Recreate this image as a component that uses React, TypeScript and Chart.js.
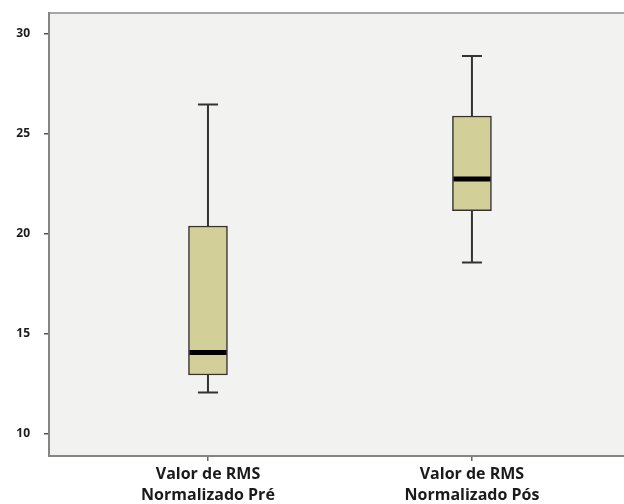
import React, { useEffect, useRef } from "react";
import { Chart, registerables } from "chart.js";

Chart.register(...registerables);

const categories = [
  ["Valor de RMS", "Normalizado Pré"],
  ["Valor de RMS", "Normalizado Pós"],
];
const positions = [1, 2];
const mins = [12.07, 18.58];
const q1 = [12.95, 21.17];
const medians = [14.07, 22.75];
const q3 = [20.4, 25.9];
const maxs = [26.48, 28.9];
const yTicks = [10, 15, 20, 25, 30];

const boxPlugin = {
  id: "boxParts",
  beforeDraw(chart: any) {
    const { ctx, chartArea } = chart;
    ctx.save();
    ctx.fillStyle = "#f2f2f1";
    ctx.fillRect(chartArea.left, chartArea.top, chartArea.right - chartArea.left, chartArea.bottom - chartArea.top);
    ctx.restore();
  },
  afterDatasetsDraw(chart: any) {
    const { ctx, scales } = chart;
    const xs = scales.x;
    const ys = scales.y;
    ctx.save();
    positions.forEach((p, i) => {
      const cx = xs.getPixelForValue(p);
      const half = 19.5;
      const cap = 10;
      ctx.strokeStyle = "#333333";
      ctx.lineWidth = 2;
      ctx.beginPath();
      ctx.moveTo(cx, ys.getPixelForValue(q3[i]));
      ctx.lineTo(cx, ys.getPixelForValue(maxs[i]));
      ctx.moveTo(cx - cap, ys.getPixelForValue(maxs[i]));
      ctx.lineTo(cx + cap, ys.getPixelForValue(maxs[i]));
      ctx.moveTo(cx, ys.getPixelForValue(q1[i]));
      ctx.lineTo(cx, ys.getPixelForValue(mins[i]));
      ctx.moveTo(cx - cap, ys.getPixelForValue(mins[i]));
      ctx.lineTo(cx + cap, ys.getPixelForValue(mins[i]));
      ctx.stroke();
      ctx.strokeStyle = "#000000";
      ctx.lineWidth = 5;
      ctx.beginPath();
      ctx.moveTo(cx - half + 1, ys.getPixelForValue(medians[i]));
      ctx.lineTo(cx + half - 1, ys.getPixelForValue(medians[i]));
      ctx.stroke();
    });
    ctx.restore();
  },
  afterDraw(chart: any) {
    const { ctx, chartArea } = chart;
    ctx.save();
    ctx.lineWidth = 2;
    ctx.strokeStyle = "#a6a6a6";
    ctx.beginPath();
    ctx.moveTo(chartArea.left, chartArea.top + 1);
    ctx.lineTo(chartArea.right + 10, chartArea.top + 1);
    ctx.stroke();
    ctx.strokeStyle = "#858585";
    ctx.beginPath();
    ctx.moveTo(chartArea.left + 1, chartArea.top);
    ctx.lineTo(chartArea.left + 1, chartArea.bottom);
    ctx.lineTo(chartArea.right + 10, chartArea.bottom);
    ctx.stroke();
    ctx.restore();
  },
};

export default function App() {
  const ref = useRef<HTMLCanvasElement>(null);
  useEffect(() => {
    document.body.style.margin = "0";
    if (!ref.current) return;
    const chart = new Chart(ref.current, {
      type: "bar",
      data: {
        datasets: [
          {
            data: positions.map((x, i) => ({ x, y: [q1[i], q3[i]] })) as any,
            backgroundColor: "#d3cf99",
            borderColor: "#333333",
            borderWidth: 1.5,
            borderSkipped: false,
            barThickness: 39,
          },
        ],
      },
      options: {
        animation: false,
        responsive: false,
        maintainAspectRatio: false,
        layout: { padding: { top: 12, left: 0, right: 0, bottom: 0 } },
        plugins: { legend: { display: false }, tooltip: { enabled: false } },
        scales: {
          x: {
            type: "linear",
            min: 0.394,
            max: 2.576,
            offset: false,
            afterBuildTicks: (s: any) => {
              s.ticks = positions.map((v) => ({ value: v }));
            },
            afterFit: (s: any) => {
              s.height = 48;
              s.paddingLeft = 0;
              s.paddingRight = 0;
            },
            grid: { drawOnChartArea: false, offset: false, tickLength: 5, color: "#666666", lineWidth: 1.5 },
            border: { display: false },
            ticks: {
              padding: 3,
              color: "#1a1a1a",
              font: { family: "Open Sans", size: 16, weight: "bold", lineHeight: 1.3 },
              maxRotation: 0,
              autoSkip: false,
              callback: (v: any) => categories[positions.indexOf(v)] as any,
            },
          },
          y: {
            type: "linear",
            min: 8.9,
            max: 31.1,
            afterBuildTicks: (s: any) => {
              s.ticks = yTicks.map((v) => ({ value: v }));
            },
            afterFit: (s: any) => {
              s.width = 48;
              s.paddingTop = 0;
              s.paddingBottom = 0;
            },
            grid: { drawOnChartArea: false, tickLength: 4, color: "#555555", lineWidth: 1.5 },
            border: { display: false },
            ticks: {
              padding: 14,
              color: "#1a1a1a",
              font: { family: "Open Sans", size: 12, weight: "bold" },
            },
          },
        },
      },
      plugins: [boxPlugin],
    });
    return () => chart.destroy();
  }, []);
  return (
    <div style={{ width: 624, height: 504, background: "#ffffff" }}>
      <canvas ref={ref} width={624} height={504} style={{ display: "block" }} />
    </div>
  );
}
